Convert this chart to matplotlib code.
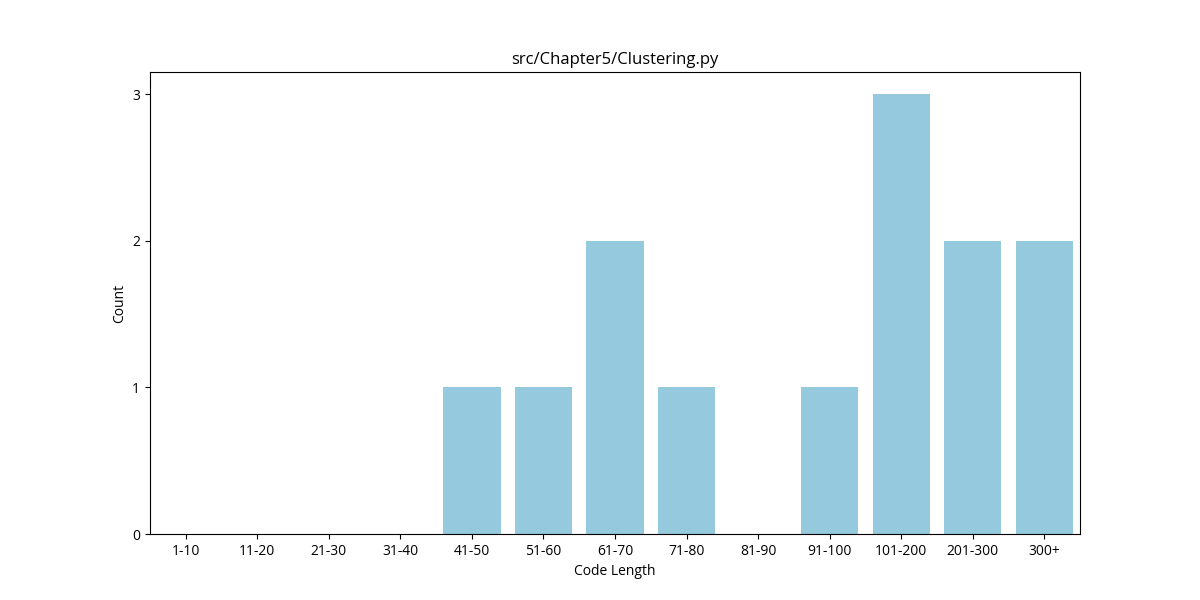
import matplotlib
matplotlib.use("Agg")
import matplotlib.pyplot as plt
import seaborn as sns
import pandas as pd

plt.rcParams['font.family'] = ['Open Sans', 'DejaVu Sans']

categories = ["1-10", "11-20", "21-30", "31-40", "41-50", "51-60", "61-70",
              "71-80", "81-90", "91-100", "101-200", "201-300", "300+"]
counts = [0, 0, 0, 0, 1, 1, 2, 1, 0, 1, 3, 2, 2]

df = pd.DataFrame({"Code Length": categories, "Count": counts})

fig, ax = plt.subplots(figsize=(12, 6), dpi=100)
sns.barplot(data=df, x="Code Length", y="Count", color="skyblue", ax=ax)
ax.set_title("src/Chapter5/Clustering.py")
ax.set_xlabel("Code Length")
ax.set_ylabel("Count")
ax.set_yticks([0, 1, 2, 3])
fig.savefig("out.png")
